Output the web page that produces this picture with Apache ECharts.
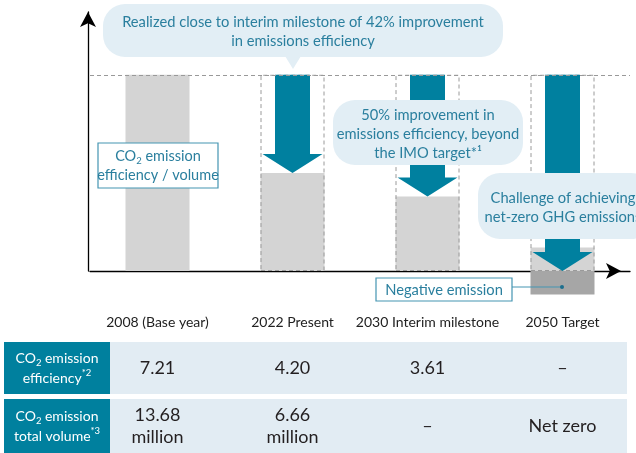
<!DOCTYPE html>
<html>
<head>
<meta charset="utf-8">
<script src="https://cdn.jsdelivr.net/npm/echarts@6/dist/echarts.min.js"></script>
<style>
    html, body { margin: 0; padding: 0; background: #fff; }
    #container { width: 636px; height: 453px; }
</style>
</head>
<body>
<div id="container"></div>
<script>
    // categories along the bottom
    var categories = ['2008 (Base year)', '2022 Present', '2030 Interim milestone', '2050 Target'];
    // illustrated bar heights (base year = 100)
    var grayLevels = [100, 50, 38, 12];
    var negativeLevels = [null, null, null, -12];
    var outlineLevels = [null, 100, 100, 100];
    var arrowFrom = [null, 100, 100, 100];
    var arrowTo = [null, 50, 38, 0];
    // table values
    var effValues = ['7.21', '4.20', '3.61', '–'];
    var volValues = ['13.68\nmillion', '6.66\nmillion', '–', 'Net zero'];

    var FONT = 'Lato, "Noto Sans", sans-serif';
    var TEAL = '#00809f';
    var TEXT_TEAL = '#2a7f9e';

    var arrowData = [];
    for (var i = 0; i < categories.length; i++) {
        if (arrowFrom[i] != null) arrowData.push([i, arrowFrom[i], arrowTo[i]]);
    }

    function renderArrow(params, api) {
        var top = api.coord([api.value(0), api.value(1)]);
        var tip = api.coord([api.value(0), api.value(2)]);
        var sw = 17.5, hw = 30, hh = 19;
        var x = top[0];
        var neck = tip[1] - hh;
        return {
            type: 'polygon',
            shape: {
                points: [[x - sw, top[1]], [x + sw, top[1]], [x + sw, neck], [x + hw, neck],
                    [x, tip[1]], [x - hw, neck], [x - sw, neck]]
            },
            style: {fill: TEAL}
        };
    }

    var chart = echarts.init(document.getElementById('container'));
    var option = {
        animation: false,
        textStyle: {fontFamily: FONT},
        grid: {left: 90, right: 6, top: 12, bottom: 182},
        xAxis: {
            type: 'category',
            data: categories,
            axisLine: {
                lineStyle: {color: '#000', width: 1.3},
                symbol: ['none', 'arrow'],
                symbolSize: [12, 15],
                symbolOffset: [0, -9]
            },
            axisTick: {show: false},
            axisLabel: {interval: 0, margin: 44, color: '#222', fontSize: 14, fontFamily: FONT}
        },
        yAxis: {
            type: 'value',
            min: 0,
            max: 132,
            offset: 2,
            axisLine: {
                show: true,
                lineStyle: {color: '#000', width: 1.3},
                symbol: ['none', 'arrow'],
                symbolSize: [12, 15],
                symbolOffset: [0, 0]
            },
            axisTick: {show: false},
            axisLabel: {show: false},
            splitLine: {show: false}
        },
        series: [
            {
                type: 'bar',
                data: grayLevels,
                barWidth: 64,
                barGap: '-100%',
                itemStyle: {color: '#d4d4d4'},
                markLine: {
                    silent: true,
                    symbol: 'none',
                    label: {show: false},
                    lineStyle: {color: '#999', type: [4, 3], width: 1},
                    data: [{yAxis: 100}]
                }
            },
            {
                type: 'bar',
                data: negativeLevels,
                barWidth: 64,
                barGap: '-100%',
                clip: false,
                itemStyle: {color: '#a6a6a6'}
            },
            {
                type: 'bar',
                data: outlineLevels,
                barWidth: 64,
                barGap: '-100%',
                z: 3,
                itemStyle: {color: 'rgba(0,0,0,0)', borderColor: '#9a9a9a', borderWidth: 1, borderType: [4, 3]}
            },
            {
                type: 'custom',
                data: arrowData,
                z: 4,
                clip: false,
                encode: {x: 0, y: [1, 2]},
                renderItem: renderArrow
            }
        ]
    };
    chart.setOption(option);

    // annotations and table
    var g = [];
    function bubble(x, y, w, h, text, cx, cy) {
        g.push({type: 'rect', z: 10, shape: {x: x, y: y, width: w, height: h, r: 22}, style: {fill: '#e2eef5'}});
        g.push({
            type: 'text', z: 11,
            style: {text: text, x: cx, y: cy, align: 'center', verticalAlign: 'middle',
                fontSize: 14.7, fontFamily: FONT, fill: TEXT_TEAL, lineHeight: 19}
        });
    }
    bubble(103, 4, 400, 53, 'Realized close to interim milestone of 42% improvement\nin emissions efficiency', 303, 31.5);
    g.push({type: 'polygon', z: 10, shape: {points: [[285, 56], [301, 56], [293, 69]]}, style: {fill: '#e2eef5'}});
    bubble(333, 100, 190, 65, '50% improvement in\nemissions efficiency, beyond\nthe IMO target*¹', 428, 134.5);
    bubble(478, 173, 175, 66, 'Challenge of achieving\nnet-zero GHG emissions', 563, 207.5);

    g.push({type: 'rect', z: 10, shape: {x: 98, y: 143, width: 120, height: 45},
        style: {fill: '#fff', stroke: '#4595b2', lineWidth: 1.2}});
    g.push({
        type: 'text', z: 11,
        style: {
            text: '{t|CO}{s|2}{t| emission}\n{t|efficiency / volume}', x: 158, y: 166,
            align: 'center', verticalAlign: 'middle', fill: TEXT_TEAL,
            rich: {
                t: {fontSize: 14.5, fontFamily: FONT, fill: TEXT_TEAL, lineHeight: 19},
                s: {fontSize: 9.5, fontFamily: FONT, fill: TEXT_TEAL, lineHeight: 17, verticalAlign: 'bottom'}
            }
        }
    });

    g.push({type: 'line', z: 10, shape: {x1: 512, y1: 287, x2: 562, y2: 287}, style: {stroke: '#4595b2', lineWidth: 1}});
    g.push({type: 'circle', z: 10, shape: {cx: 562, cy: 287, r: 2}, style: {fill: '#1d6f8e'}});
    g.push({type: 'rect', z: 10, shape: {x: 376, y: 278, width: 136, height: 23},
        style: {fill: '#fff', stroke: '#4595b2', lineWidth: 1.2}});
    g.push({type: 'text', z: 11, style: {text: 'Negative emission', x: 444, y: 290, align: 'center', verticalAlign: 'middle',
        fontSize: 14.7, fontFamily: FONT, fill: TEXT_TEAL}});

    // table
    var rows = [
        {y: 342, h: 52, head: '{t|CO}{s|2}{t| emission}\n{t|efficiency}{p|*2}', values: effValues},
        {y: 399, h: 54, head: '{t|CO}{s|2}{t| emission}\n{t|total volume}{p|*3}', values: volValues}
    ];
    rows.forEach(function (row) {
        g.push({type: 'rect', z: 10, shape: {x: 4, y: row.y, width: 106, height: row.h}, style: {fill: '#00809e'}});
        g.push({type: 'rect', z: 10, shape: {x: 110, y: row.y, width: 517, height: row.h}, style: {fill: '#e2ecf3'}});
        g.push({
            type: 'text', z: 11,
            style: {
                text: row.head, x: 57, y: row.y + row.h / 2, align: 'center', verticalAlign: 'middle', fill: '#fff',
                rich: {
                    t: {fontSize: 14, fontFamily: FONT, fill: '#fff', lineHeight: 20},
                    s: {fontSize: 9.5, fontFamily: FONT, fill: '#fff', lineHeight: 18, verticalAlign: 'bottom'},
                    p: {fontSize: 9.5, fontFamily: FONT, fill: '#fff', lineHeight: 20, verticalAlign: 'top'}
                }
            }
        });
        row.values.forEach(function (v, i) {
            var px = chart.convertToPixel({xAxisIndex: 0}, categories[i]);
            g.push({
                type: 'text', z: 11,
                style: {text: v, x: px, y: row.y + row.h / 2, align: 'center', verticalAlign: 'middle',
                    fontSize: 18, fontFamily: FONT, fill: '#231f20', lineHeight: 22}
            });
        });
    });

    chart.setOption({graphic: {elements: g}});
</script>
</body>
</html>
